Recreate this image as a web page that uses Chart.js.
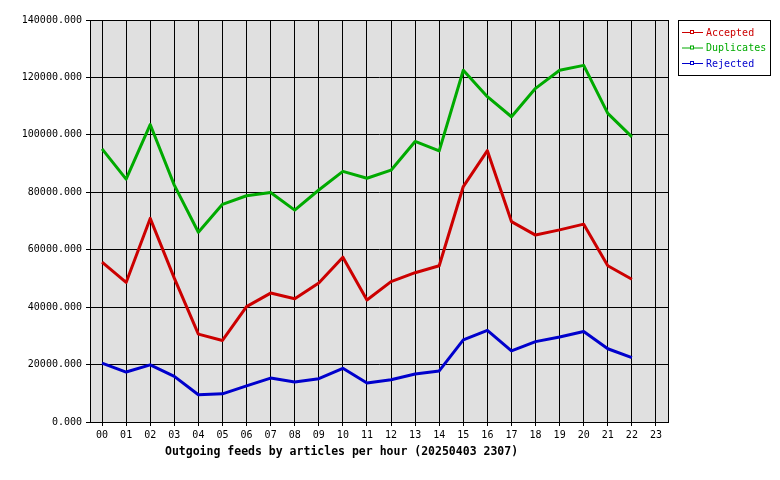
<!DOCTYPE html>
<html>
<head>
<meta charset="utf-8">
<script src="https://cdn.jsdelivr.net/npm/chart.js@4/dist/chart.umd.min.js"></script>
<style>
    html, body { margin: 0; padding: 0; background: #fff; }
    #wrap { width: 780px; height: 480px; }
</style>
</head>
<body>
<div id="wrap"><canvas id="feedChart"></canvas></div>
<script>
// Hours of the day
const hours = ['00','01','02','03','04','05','06','07','08','09','10','11',
               '12','13','14','15','16','17','18','19','20','21','22','23'];

// Articles per hour (hour 23 has no data yet)
const accepted = [55700, 48600, 70900, 50100, 30600, 28400, 40200, 44900, 42900, 48400, 57400, 42500,
                  48900, 52000, 54400, 82000, 94500, 69800, 65100, 66900, 68900, 54400, 49700, null];
const duplicates = [95100, 84600, 103600, 82500, 66100, 75800, 78800, 79900, 73800, 80800, 87300, 84900,
                    87700, 97700, 94400, 122500, 113300, 106300, 116200, 122500, 124200, 107500, 99300, null];
const rejected = [20500, 17400, 19900, 15900, 9500, 9800, 12600, 15300, 13900, 15100, 18700, 13600,
                  14700, 16700, 17800, 28600, 31900, 24800, 28000, 29600, 31500, 25500, 22400, null];

const yTicks = [0, 20000, 40000, 60000, 80000, 100000, 120000, 140000];
const xTitle = 'Outgoing feeds by articles per hour (20250403 2307)';

const mono = '"DejaVu Sans Mono", "Liberation Mono", monospace';

// Grey plot area plus a closed black frame
const frame = {
    id: 'frame',
    beforeDraw(chart) {
        const a = chart.chartArea, ctx = chart.ctx;
        ctx.save();
        ctx.fillStyle = '#e0e0e0';
        ctx.fillRect(a.left, a.top, a.right - a.left, a.bottom - a.top);
        ctx.restore();
    },
    afterDraw(chart) {
        const a = chart.chartArea, ctx = chart.ctx;
        ctx.save();
        ctx.strokeStyle = '#000';
        ctx.lineWidth = 1;
        ctx.strokeRect(a.left + 0.5, a.top + 0.5, a.right - a.left, a.bottom - a.top);

        // x axis caption
        ctx.font = 'bold 11.5px ' + mono;
        ctx.fillStyle = '#000';
        ctx.textBaseline = 'middle';
        ctx.textAlign = 'left';
        ctx.fillText(xTitle, 165, 452);

        // legend box at the right
        const lx = 678, ly = 20, lw = 92, lh = 55;
        ctx.fillStyle = '#fff';
        ctx.fillRect(lx, ly, lw, lh);
        ctx.strokeRect(lx + 0.5, ly + 0.5, lw, lh);
        ctx.font = '10px ' + mono;
        chart.data.datasets.forEach(function(ds, i) {
            const y = ly + 12 + i * 15.5;
            ctx.strokeStyle = ds.borderColor;
            ctx.fillStyle = ds.borderColor;
            ctx.beginPath();
            ctx.moveTo(682, y + 0.5);
            ctx.lineTo(703, y + 0.5);
            ctx.stroke();
            ctx.fillStyle = '#fff';
            ctx.fillRect(690, y - 1, 3, 3);
            ctx.strokeRect(690.5, y - 1.5, 3, 3);
            ctx.fillStyle = ds.borderColor;
            ctx.fillText(ds.label, 706, y + 1);
        });
        ctx.restore();
    }
};

new Chart(document.getElementById('feedChart'), {
    type: 'line',
    data: {
        labels: hours,
        datasets: [
            { label: 'Accepted', data: accepted, borderColor: '#cc0000' },
            { label: 'Duplicates', data: duplicates, borderColor: '#00aa00' },
            { label: 'Rejected', data: rejected, borderColor: '#0000cc' }
        ]
    },
    options: {
        responsive: true,
        maintainAspectRatio: false,
        animation: false,
        layout: { padding: { left: 0, top: 20, right: 112, bottom: 0 } },
        elements: {
            line: { borderWidth: 3, tension: 0, borderJoinStyle: 'round' },
            point: { radius: 0, hoverRadius: 0 }
        },
        scales: {
            x: {
                offset: true,
                afterFit: function(scale) { scale.height = 58; },
                grid: { offset: false, color: '#000', lineWidth: 1, tickLength: 4 },
                border: { color: '#000' },
                ticks: {
                    color: '#000',
                    font: { family: mono, size: 10 },
                    maxRotation: 0,
                    autoSkip: false,
                    padding: 3
                }
            },
            y: {
                min: 0,
                max: 140000,
                afterFit: function(scale) { scale.width = 90; },
                afterBuildTicks: function(scale) {
                    scale.ticks = yTicks.map(function(v) { return { value: v }; });
                },
                grid: { color: '#000', lineWidth: 1, tickLength: 4 },
                border: { color: '#000' },
                ticks: {
                    color: '#000',
                    font: { family: mono, size: 10 },
                    padding: 4,
                    callback: function(v) { return Number(v).toFixed(3); }
                }
            }
        },
        plugins: {
            legend: { display: false },
            tooltip: { enabled: false }
        }
    },
    plugins: [frame]
});
</script>
</body>
</html>
